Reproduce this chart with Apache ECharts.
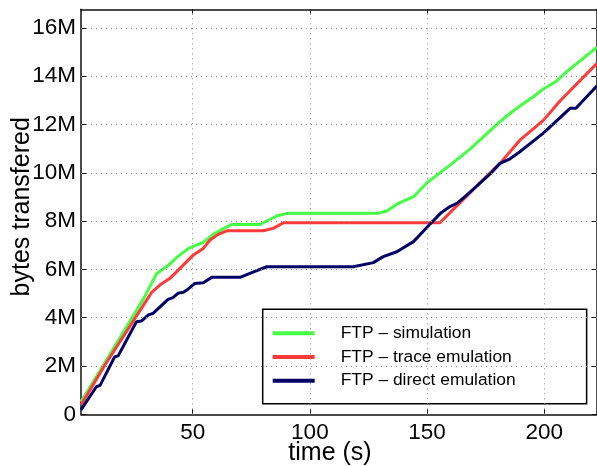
<!DOCTYPE html>
<html><head><meta charset="utf-8">
<script src="https://cdn.jsdelivr.net/npm/echarts@6/dist/echarts.min.js"></script>
<style>html,body{margin:0;padding:0;background:#fff}#c{width:597px;height:466px}</style>
</head><body><div id="c"></div>
<script>
// tick labels
const xTicks = [50, 100, 150, 200];
const yTicks = [0, 2, 4, 6, 8, 10, 12, 14, 16]; // millions of bytes

// FTP – simulation (time s, bytes in M)
const simTime  = [2.35, 12, 29, 34.5, 40, 43.2, 48.1, 50.3, 54.5, 58.8, 63.1, 66.6, 78.7, 85.8, 90.5, 129.2, 132.8, 137.1, 144.2, 149.8, 159.8, 168.3, 181.1, 186.8, 195.3, 199.6, 205.3, 209.6, 222.5];
const simBytes = [0.52, 2.05, 4.78, 5.81, 6.2, 6.5, 6.86, 6.95, 7.12, 7.45, 7.69, 7.86, 7.86, 8.21, 8.32, 8.32, 8.42, 8.7, 9.01, 9.57, 10.32, 10.98, 12.12, 12.57, 13.15, 13.47, 13.8, 14.19, 15.2];

// FTP – trace emulation
const traceTime  = [2.35, 12.3, 32.5, 36, 40.3, 46.7, 50.3, 54.5, 57.4, 60.9, 64.5, 80.1, 84.4, 88.7, 155.5, 165.5, 176.9, 181.1, 189.6, 199.6, 206.7, 222.5];
const traceBytes = [0.38, 2.0, 5.05, 5.35, 5.63, 6.25, 6.6, 6.87, 7.22, 7.45, 7.6, 7.6, 7.7, 7.93, 7.93, 8.9, 10.0, 10.39, 11.35, 12.17, 12.97, 14.53];

// FTP – direct emulation
const directTime  = [2.35, 8.9, 10.5, 16.7, 18.2, 26, 28.1, 31, 33.1, 39.5, 41.6, 43.7, 46, 48, 50.9, 54.5, 58.1, 70.2, 76, 81.6, 118.5, 127.1, 131.3, 137.1, 144.2, 151, 156, 159.8, 163, 166.9, 176.9, 181.1, 185.4, 189.6, 199.6, 211, 213.5, 222.5];
const directBytes = [0.18, 1.14, 1.2, 2.38, 2.42, 3.83, 3.86, 4.11, 4.18, 4.76, 4.83, 5.01, 5.05, 5.18, 5.42, 5.45, 5.67, 5.67, 5.9, 6.11, 6.11, 6.28, 6.53, 6.73, 7.15, 7.85, 8.35, 8.6, 8.75, 9.08, 9.95, 10.39, 10.58, 10.87, 11.64, 12.67, 12.67, 13.6];

const names = ['FTP \u2013 simulation', 'FTP \u2013 trace emulation', 'FTP \u2013 direct emulation'];
const colors = ['#44ff44', '#ff3a3a', '#000066'];

const pairs = (t, v) => t.map((x, i) => [x, v[i]]);
const FONT = 'Liberation Sans, Arial, Helvetica, sans-serif';

const chart = echarts.init(document.getElementById('c'), null, {renderer: 'canvas'});
const axisLine = {show: true, onZero: false, lineStyle: {color: '#111', width: 1.5}};
const gridStyle = {type: [1, 4], color: '#8a8a8a', width: 1};

chart.setOption({
  animation: false,
  backgroundColor: '#fff',
  grid: {left: 81, top: 9.3, right: 0, bottom: 51.7, containLabel: false, outerBoundsMode: 'none'},
  legend: {
    show: true,
    orient: 'vertical',
    left: 262.7, top: 309.3,
    padding: [15, 71, 14, 10],
    borderColor: '#000', borderWidth: 1.5,
    backgroundColor: '#fff',
    icon: 'rect', itemWidth: 42, itemHeight: 4, itemGap: 5.7,
    textStyle: {fontFamily: FONT, fontSize: 17.4, color: '#000', lineHeight: 18, padding: [0, 0, 0, 21]},
    data: names
  },
  xAxis: [{
    type: 'value', position: 'bottom', min: 2.35, max: 222.5,
    axisLine,
    axisTick: {show: true, inside: true, length: 5, customValues: xTicks, lineStyle: {color: '#111'}},
    axisLabel: {customValues: xTicks, fontFamily: FONT, fontSize: 22.5, color: '#000', margin: 7},
    splitLine: {show: false},
    name: 'time (s)', nameLocation: 'middle', nameGap: 26, nameMoveOverlap: false,
    nameTextStyle: {fontFamily: FONT, fontSize: 25, color: '#000', padding: [0, 18, 0, 0]}
  }, {
    type: 'value', position: 'top', min: 2.35, max: 222.5,
    axisLine,
    axisTick: {show: true, inside: true, length: 5, customValues: xTicks, lineStyle: {color: '#111'}},
    axisLabel: {show: false}, splitLine: {show: false}
  }],
  yAxis: [{
    type: 'value', position: 'left', min: 0, max: 16.77,
    axisLine,
    axisTick: {show: true, inside: true, length: 5, customValues: yTicks, lineStyle: {color: '#111'}},
    axisLabel: {customValues: yTicks, fontFamily: FONT, fontSize: 22.5, color: '#000', margin: 5,
      formatter: v => v === 0 ? '0' : v + 'M'},
    splitLine: {show: false},
    name: 'bytes transfered', nameLocation: 'middle', nameGap: 46.5, nameRotate: 90, nameMoveOverlap: false,
    nameTextStyle: {fontFamily: FONT, fontSize: 25, color: '#000', padding: [0, 0, 0, 10]}
  }, {
    type: 'value', position: 'right', min: 0, max: 16.77,
    axisLine,
    axisTick: {show: true, inside: true, length: 5, customValues: yTicks, lineStyle: {color: '#111'}},
    axisLabel: {show: false}, splitLine: {show: false}
  }],
  series: [
    {
      name: 'grid', type: 'line', data: [], z: 1, silent: true,
      markLine: {
        silent: true, symbol: ['none', 'none'], label: {show: false},
        lineStyle: gridStyle, emphasis: {disabled: true},
        data: xTicks.map(v => ({xAxis: v})).concat(yTicks.filter(v => v > 0).map(v => ({yAxis: v})))
      }
    },
    {name: names[0], type: 'line', data: pairs(simTime, simBytes), color: colors[0]},
    {name: names[1], type: 'line', data: pairs(traceTime, traceBytes), color: colors[1]},
    {name: names[2], type: 'line', data: pairs(directTime, directBytes), color: colors[2]}
  ].map((s, i) => i === 0 ? s : Object.assign(s, {showSymbol: false, symbol: 'none', lineStyle: {width: 3, color: s.color}, itemStyle: {color: s.color}, z: 3}))
});
</script>
</body></html>
